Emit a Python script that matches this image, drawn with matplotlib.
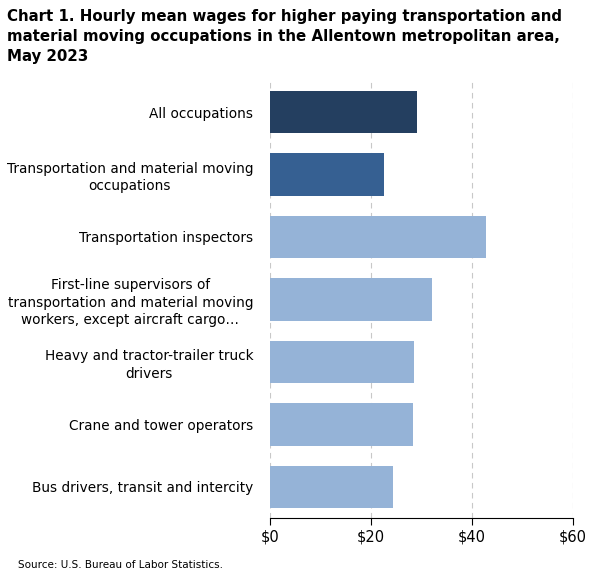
import matplotlib.pyplot as plt

categories = ["All occupations", "Transportation and material moving\noccupations",
              "Transportation inspectors",
              "First-line supervisors of\ntransportation and material moving\nworkers, except aircraft cargo…",
              "Heavy and tractor-trailer truck\ndrivers", "Crane and tower operators",
              "Bus drivers, transit and intercity"]
wages = [29.1, 22.6, 42.8, 32.1, 28.5, 28.3, 24.4]
colors = ["#243f60", "#366092"] + ["#95b3d7"] * 5
ticks = [0, 20, 40, 60]
tick_labels = ["$0", "$20", "$40", "$60"]

fig = plt.figure(figsize=(6.01, 5.77), dpi=100)
ax = fig.add_axes([0.449, 0.102, 0.504, 0.758])
y = list(range(len(categories)))
ax.barh(y, wages, color=colors, height=0.68, zorder=3)
ax.set_ylim(len(categories) - 0.5, -0.5)
ax.set_xlim(0, 60)
ax.set_yticks(y)
ax.set_yticklabels(categories, fontsize=9.8, linespacing=1.3, multialignment='center')
ax.set_xticks(ticks)
ax.set_xticklabels(tick_labels, fontsize=10.5)
ax.tick_params(axis='y', length=0, pad=12)
ax.tick_params(axis='x', length=5, color='black')
ax.grid(axis='x', color='#c8c8c8', linestyle=(0, (5, 4)), zorder=0)
for s in ["top", "right", "left"]:
    ax.spines[s].set_visible(False)
fig.text(0.012, 0.985, "Chart 1. Hourly mean wages for higher paying transportation and\nmaterial moving occupations in the Allentown metropolitan area,\nMay 2023",
         fontsize=10.8, fontweight='bold', va='top', ha='left', linespacing=1.45)
fig.text(0.03, 0.012, "Source: U.S. Bureau of Labor Statistics.", fontsize=7.5, ha='left', va='bottom')
fig.savefig("out.png", dpi=100)
